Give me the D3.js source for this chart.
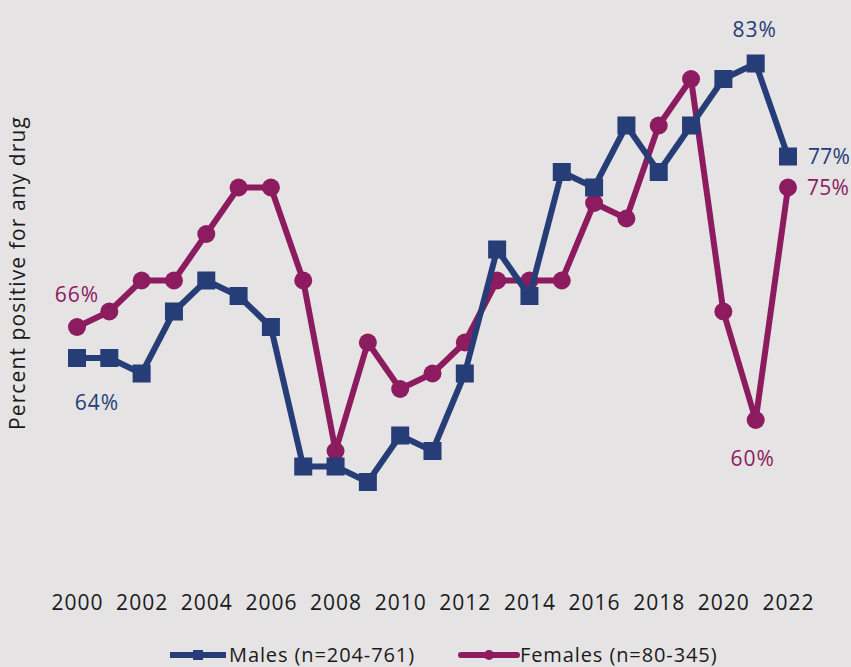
<!DOCTYPE html>
<html>
<head>
<meta charset="utf-8">
<script src="https://cdn.jsdelivr.net/npm/d3@7"></script>
<style>
  html, body { margin: 0; padding: 0; background: #e5e3e4; }
  svg { display: block; font-family: "Open Sans", sans-serif; }
</style>
</head>
<body>
<div id="chartSection"></div>
<script>
// data
var years = d3.range(2000, 2023);
var males = [64, 64, 63, 67, 69, 68, 66, 57, 57, 56, 59, 58, 63, 71, 68, 76, 75, 79, 76, 79, 82, 83, 77];
var females = [66, 67, 69, 69, 72, 75, 75, 69, 58, 65, 62, 63, 65, 69, 69, 69, 74, 73, 79, 82, 67, 60, 75];
var tickYears = [2000, 2002, 2004, 2006, 2008, 2010, 2012, 2014, 2016, 2018, 2020, 2022];
var seriesNames = ["Males (n=204-761)", "Females (n=80-345)"];
var colors = ["#263d77", "#8c1b5f"];

var width = 851, height = 667;
var svg = d3.select("#chartSection").append("svg")
    .attr("width", width)
    .attr("height", height);

var x = d3.scaleLinear().domain([2000, 2022]).range([77, 788]);
var y = d3.scaleLinear().domain([50, 85]).range([575, 32.5]);

// y axis title
svg.append("text")
    .attr("transform", "translate(25,273) rotate(-90)")
    .attr("text-anchor", "middle")
    .attr("font-size", 21)
    .attr("letter-spacing", 1.1)
    .attr("fill", "#1a1a1a")
    .text("Percent positive for any drug");

// x tick labels
var xAxis = d3.axisBottom(x).tickValues(tickYears).tickFormat(d3.format("d")).tickSize(0).tickPadding(0);
var gx = svg.append("g").attr("transform", "translate(0,595)").call(xAxis);
gx.select(".domain").remove();
gx.selectAll("text")
    .attr("font-family", "Open Sans, sans-serif")
    .attr("font-size", 21)
    .attr("letter-spacing", 1)
    .attr("fill", "#1a1a1a");

var line = d3.line().x((d, i) => x(years[i])).y(d => y(d));

// females
svg.append("path").datum(females)
    .attr("d", line)
    .attr("fill", "none")
    .attr("stroke", colors[1])
    .attr("stroke-width", 6)
    .attr("stroke-linejoin", "round");
svg.append("g").selectAll("circle")
    .data(females)
    .enter().append("circle")
    .attr("cx", (d, i) => x(years[i]))
    .attr("cy", d => y(d))
    .attr("r", 9)
    .attr("fill", colors[1]);

// males
svg.append("path").datum(males)
    .attr("d", line)
    .attr("fill", "none")
    .attr("stroke", colors[0])
    .attr("stroke-width", 6)
    .attr("stroke-linejoin", "round");
svg.append("g").selectAll("rect")
    .data(males)
    .enter().append("rect")
    .attr("x", (d, i) => x(years[i]) - 9)
    .attr("y", d => y(d) - 9)
    .attr("width", 18)
    .attr("height", 18)
    .attr("fill", colors[0]);

// value labels
var labels = [
    {s: 0, i: 0, dx: 20, dy: 52, anchor: "middle", ls: 1},
    {s: 1, i: 0, dx: 0, dy: -25, anchor: "middle", ls: 1},
    {s: 0, i: 21, dx: -1, dy: -27, anchor: "middle", ls: 1},
    {s: 0, i: 22, dx: 20, dy: 7, anchor: "start", ls: 0.3},
    {s: 1, i: 22, dx: 19, dy: 7, anchor: "start", ls: 0.3},
    {s: 1, i: 21, dx: -3, dy: 46, anchor: "middle", ls: 1}
];
svg.append("g").selectAll("text")
    .data(labels)
    .enter().append("text")
    .attr("x", d => x(years[d.i]) + d.dx)
    .attr("y", d => y((d.s == 0 ? males : females)[d.i]) + d.dy)
    .attr("text-anchor", d => d.anchor)
    .attr("font-size", 21)
    .attr("letter-spacing", d => d.ls)
    .attr("fill", d => colors[d.s])
    .text(d => (d.s == 0 ? males : females)[d.i] + "%");

// legend
var legend = svg.append("g").attr("transform", "translate(0,655)");
var lx = [170, 461];
seriesNames.forEach(function(name, k) {
    var g = legend.append("g").attr("transform", "translate(" + lx[k] + ",0)");
    g.append("line").attr("x1", 0).attr("x2", 56).attr("y1", 0).attr("y2", 0)
        .attr("stroke", colors[k]).attr("stroke-width", 6)
        .attr("stroke-linecap", k == 1 ? "round" : "butt");
    if (k == 0) {
        g.append("rect").attr("x", 23).attr("y", -5).attr("width", 10).attr("height", 10).attr("fill", colors[k]);
    } else {
        g.append("circle").attr("cx", 28).attr("cy", 0).attr("r", 5).attr("fill", colors[k]);
    }
    g.append("text").attr("x", 59).attr("y", 7)
        .attr("font-size", 20)
        .attr("letter-spacing", 0.9)
        .attr("fill", "#1a1a1a")
        .text(name);
});
</script>
</body>
</html>
